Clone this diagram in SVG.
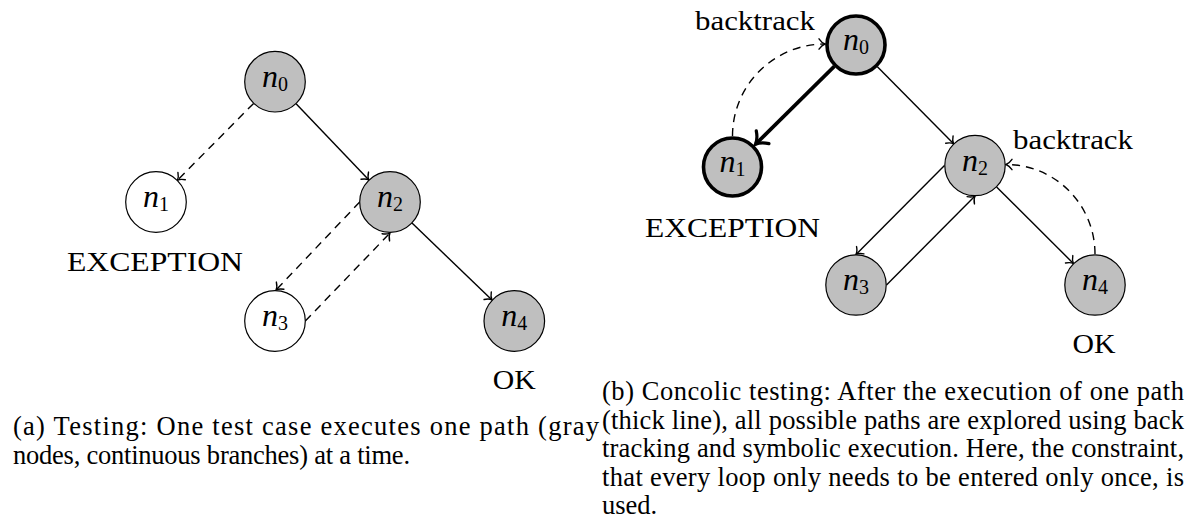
<svg xmlns="http://www.w3.org/2000/svg" width="1186" height="521" viewBox="0 0 1186 521">
  <style>
    text { font-family: "Liberation Serif", "Times New Roman", serif; fill: #000; }
    .node { stroke: #000; stroke-width: 1.2; }
    .gray { fill: #bfbfbf; }
    .white { fill: #fff; }
    .bold { stroke-width: 3.6; }
    .lbl { text-anchor: middle; }
    .m { font-style: italic; font-size: 32px; }
    .sub { font-size: 20px; }
    .tag { font-size: 28px; text-anchor: middle; }
    .cap { font-size: 26.5px; }
    .edge { fill: none; stroke: #000; stroke-width: 1.4; marker-end: url(#tip); }
    .dash { stroke-dasharray: 8 6; }
    .thick { stroke-width: 3.6; marker-end: url(#tipThick); }
  </style>
  <defs>
    <marker id="tip" viewBox="-8 -7 10 14" refX="0" refY="0" markerWidth="10" markerHeight="14" markerUnits="userSpaceOnUse" orient="auto" overflow="visible">
      <path d="M-6,-5.2 C-3.8,-2 -1.3,-0.4 0,0 C-1.3,0.4 -3.8,2 -6,5.2" fill="none" stroke="#000" stroke-width="1.4" stroke-linecap="round" stroke-dasharray="none"/>
    </marker>
    <marker id="tipThick" viewBox="-14 -12 16 24" refX="0" refY="0" markerWidth="16" markerHeight="24" markerUnits="userSpaceOnUse" orient="auto" overflow="visible">
      <path d="M-10,-9 C-6.3,-3.4 -2,-0.8 0,0 C-2,0.8 -6.3,3.4 -10,9" fill="none" stroke="#000" stroke-width="3.2" stroke-linecap="round" stroke-dasharray="none"/>
    </marker>
  </defs>

  <!-- (a) plain testing: one executed path -->
  <g id="testing">
    <g id="a-connectors">
      <path class="edge dash" d="M253.6,103.4 L177.4,180.3"/>
      <path class="edge" d="M296.1,103.7 L368.9,180"/>
      <path class="edge dash" d="M359.7,202 L276,290"/>
      <path class="edge dash" d="M305.3,321 L390,233"/>
      <path class="edge" d="M412,223.1 L492,299.9"/>
    </g>
    <g id="a-n0">
      <circle class="node gray" cx="275" cy="81.7" r="30.3"/>
      <text class="lbl" x="275" y="86.7"><tspan class="m">n</tspan><tspan class="sub" dy="4">0</tspan></text>
    </g>
    <g id="a-n1">
      <circle class="node white" cx="156" cy="202" r="30.3"/>
      <text class="lbl" x="156" y="207"><tspan class="m">n</tspan><tspan class="sub" dy="4">1</tspan></text>
      <text class="tag" x="155" y="270.5" textLength="176" lengthAdjust="spacingAndGlyphs">EXCEPTION</text>
    </g>
    <g id="a-n2">
      <circle class="node gray" cx="390" cy="202" r="30.3"/>
      <text class="lbl" x="390" y="207"><tspan class="m">n</tspan><tspan class="sub" dy="4">2</tspan></text>
    </g>
    <g id="a-n3">
      <circle class="node white" cx="275" cy="321" r="30.3"/>
      <text class="lbl" x="275" y="326"><tspan class="m">n</tspan><tspan class="sub" dy="4">3</tspan></text>
    </g>
    <g id="a-n4">
      <circle class="node gray" cx="514.3" cy="321" r="30.3"/>
      <text class="lbl" x="514.3" y="326"><tspan class="m">n</tspan><tspan class="sub" dy="4">4</tspan></text>
      <text class="tag" x="514.3" y="388.5" textLength="43" lengthAdjust="spacingAndGlyphs">OK</text>
    </g>
    <text class="cap" x="13" y="435" textLength="586" lengthAdjust="spacing">(a) Testing:  One test case executes one path (gray</text>
    <text class="cap" x="13" y="463.7" textLength="397" lengthAdjust="spacing">nodes, continuous branches) at a time.</text>
  </g>

  <!-- (b) concolic testing with backtracking -->
  <g id="concolic">
    <g id="b-connectors">
      <path class="edge thick" d="M834.3,66.4 L755.5,144.3"/>
      <path class="edge" d="M877.4,66.7 L953.6,143.8"/>
      <path class="edge" d="M944.5,165.5 L856,254.5"/>
      <path class="edge" d="M886.5,285 L975,196"/>
      <path class="edge" d="M996.6,187 L1073.4,263.5"/>
      <path class="edge dash" d="M732.5,136 C732.5,85 774,44 825,44"/>
      <path class="edge dash" d="M1095,254 C1095,204.7 1055.3,164.5 1006,164.5"/>
    </g>
    <g id="b-n0">
      <circle class="node gray bold" cx="856" cy="45" r="29"/>
      <text class="lbl" x="856" y="50"><tspan class="m">n</tspan><tspan class="sub" dy="4">0</tspan></text>
      <text class="tag" x="755" y="29.5" textLength="120" lengthAdjust="spacingAndGlyphs">backtrack</text>
    </g>
    <g id="b-n1">
      <circle class="node gray bold" cx="732.5" cy="167" r="29"/>
      <text class="lbl" x="732.5" y="172"><tspan class="m">n</tspan><tspan class="sub" dy="4">1</tspan></text>
      <text class="tag" x="732.5" y="236.7" textLength="175" lengthAdjust="spacingAndGlyphs">EXCEPTION</text>
    </g>
    <g id="b-n2">
      <circle class="node gray" cx="975" cy="165.5" r="30.2"/>
      <text class="lbl" x="975" y="170.5"><tspan class="m">n</tspan><tspan class="sub" dy="4">2</tspan></text>
      <text class="tag" x="1073" y="149" textLength="120" lengthAdjust="spacingAndGlyphs">backtrack</text>
    </g>
    <g id="b-n3">
      <circle class="node gray" cx="856" cy="285" r="30.2"/>
      <text class="lbl" x="856" y="290"><tspan class="m">n</tspan><tspan class="sub" dy="4">3</tspan></text>
    </g>
    <g id="b-n4">
      <circle class="node gray" cx="1095" cy="285" r="30.2"/>
      <text class="lbl" x="1095" y="290"><tspan class="m">n</tspan><tspan class="sub" dy="4">4</tspan></text>
      <text class="tag" x="1094" y="352.7" textLength="43" lengthAdjust="spacingAndGlyphs">OK</text>
    </g>
    <text class="cap" x="602" y="400" textLength="582" lengthAdjust="spacing">(b) Concolic testing:  After the execution of one path</text>
    <text class="cap" x="602" y="428.5" textLength="582" lengthAdjust="spacing">(thick line), all possible paths are explored using back</text>
    <text class="cap" x="602" y="457" textLength="582" lengthAdjust="spacing">tracking and symbolic execution. Here, the constraint,</text>
    <text class="cap" x="602" y="485.7" textLength="582" lengthAdjust="spacing">that every loop only needs to be entered only once, is</text>
    <text class="cap" x="602" y="514.3">used.</text>
  </g>
</svg>
